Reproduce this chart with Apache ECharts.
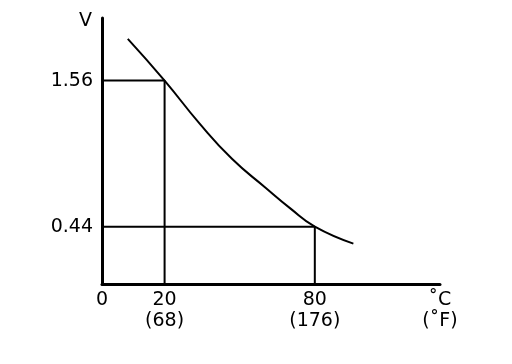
<!DOCTYPE html>
<html>
<head>
<meta charset="utf-8">
<script src="https://cdn.jsdelivr.net/npm/echarts@6/dist/echarts.min.js"></script>
<style>html,body{margin:0;padding:0;background:#fff;}#c{width:512px;height:364px;}</style>
</head>
<body>
<div id="c"></div>
<script>
// Data (°C, V)
var curveX = [5.3, 20, 34, 46.9, 60.2, 70.2, 80, 95.4];
var curveV = [1.88, 1.56, 1.23, 0.96, 0.74, 0.58, 0.44, 0.31];
var markTempC = [20, 80];
var markTempF = [68, 176];
var markVolts = [1.56, 0.44];
var xOrigin = -5;   // axis origin drawn as "0" (diagram not to scale)
var xEnd = 130;
var yTicks = [0.44, 1.56];

var FONT = 'DejaVu Sans';
var curveData = curveX.map(function (x, i) { return [x, curveV[i]]; });

var guideSeries = markTempC.map(function (t, i) {
  return {
    type: 'line', silent: true, symbol: 'none', animation: false,
    lineStyle: { color: '#000', width: 2 },
    data: [[xOrigin, markVolts[i]], [t, markVolts[i]], [t, 0]]
  };
});

var labelMap = {};
labelMap[xOrigin] = '0';
markTempC.forEach(function (t, i) { labelMap[t] = t + '\n(' + markTempF[i] + ')'; });
labelMap[xEnd] = '˚C\n(˚F)';

var chart = echarts.init(document.getElementById('c'));
chart.setOption({
  animation: false,
  grid: { left: 102, right: 72, top: 18, bottom: 80 },
  xAxis: {
    type: 'value', min: xOrigin, max: xEnd,
    axisLine: { show: true, onZero: false, lineStyle: { color: '#000', width: 3 } },
    axisTick: { show: false },
    splitLine: { show: false },
    axisLabel: {
      customValues: [xOrigin].concat(markTempC).concat([xEnd]),
      formatter: function (v) { return labelMap[v] !== undefined ? labelMap[v] : ''; },
      color: '#000', fontFamily: FONT, fontSize: 19, lineHeight: 21, margin: 6,
      showMinLabel: true, showMaxLabel: true
    }
  },
  yAxis: {
    type: 'value', min: 0, max: 2.04,
    name: 'V', nameLocation: 'end', nameGap: -3,
    nameTextStyle: { color: '#000', fontFamily: FONT, fontSize: 19, align: 'right', verticalAlign: 'middle', padding: [0, 10, 0, 0] },
    axisLine: { show: true, onZero: false, lineStyle: { color: '#000', width: 3 } },
    axisTick: { show: false },
    splitLine: { show: false },
    axisLabel: {
      customValues: yTicks,
      formatter: function (v) { return v.toFixed(2); },
      color: '#000', fontFamily: FONT, fontSize: 19, margin: 9
    }
  },
  series: [{
    type: 'line', smooth: 0.5, symbol: 'none', silent: true,
    lineStyle: { color: '#000', width: 2 },
    data: curveData
  }].concat(guideSeries)
});
</script>
</body>
</html>
